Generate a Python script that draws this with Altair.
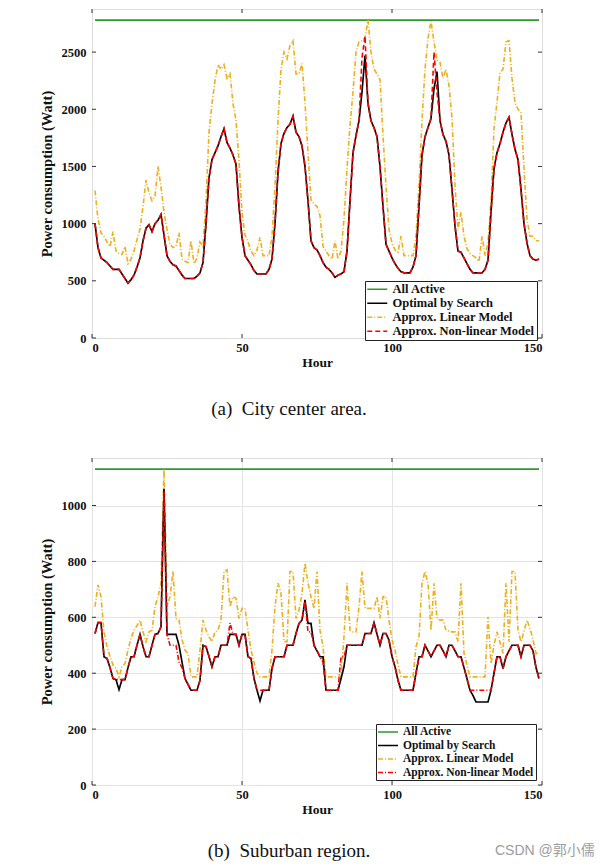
import altair as alt
import pandas as pd

# ---------------- data ----------------
hours = list(range(1, 150))
all_active_hours = [1, 149]

series_names = ["All Active", "Optimal by Search", "Approx. Linear Model", "Approx. Non-linear Model"]
series_colors = ["#2E9A2E", "#000000", "#EDB120", "#FF0000"]

# (a) City center area
city_all_active = [2780, 2780]
city_optimal = [
    1000, 790, 700, 680, 660, 630, 600, 600, 600, 560,
    520, 480, 510, 550, 620, 700, 850, 960, 990, 930,
    1000, 1030, 1080, 900, 720, 670, 640, 630, 590, 550,
    520, 520, 520, 520, 540, 570, 660, 1000, 1400, 1560,
    1620, 1680, 1760, 1830, 1710, 1660, 1600, 1520, 1150, 880,
    720, 680, 640, 590, 560, 560, 560, 560, 600, 690,
    1000, 1450, 1700, 1790, 1840, 1870, 1940, 1800, 1760, 1680,
    1500, 1200, 850, 790, 770, 720, 660, 620, 600, 570,
    530, 550, 560, 580, 760, 1200, 1620, 1770, 1900, 2150,
    2470, 2050, 1900, 1840, 1760, 1500, 1150, 820, 760, 700,
    650, 610, 580, 570, 570, 570, 620, 720, 1150, 1600,
    1760, 1840, 1920, 2180, 2330, 1900, 1780, 1720, 1600, 1300,
    980, 760, 750, 700, 650, 600, 570, 570, 570, 570,
    600, 680, 1100, 1480, 1620, 1700, 1800, 1880, 1930, 1780,
    1650, 1560, 1300, 1000, 830, 720, 690, 680, 690,
]
city_linear = [
    1290, 1040, 920, 890, 840, 800, 930, 760, 740, 730,
    800, 650, 690, 760, 860, 950, 1150, 1380, 1270, 1200,
    1240, 1500, 1320, 1100, 950, 820, 790, 800, 920, 690,
    670, 660, 850, 650, 700, 840, 800, 1200, 1800, 2050,
    2250, 2390, 2350, 2390, 2270, 2310, 2050, 1900, 1550, 1100,
    900, 840, 760, 720, 770, 880, 720, 720, 720, 890,
    1330, 1900, 2350, 2500, 2440, 2560, 2600, 2310, 2310, 2400,
    2060, 1620, 1210, 1170, 1150, 1070, 800, 760, 720, 690,
    850, 690, 760, 1040, 1480, 1860, 2150, 2500, 2590, 2600,
    2620, 2780, 2500, 2350, 2310, 2260, 1770, 1330, 950, 830,
    770, 750, 890, 720, 720, 720, 720, 890, 1330, 1900,
    2350, 2620, 2770, 2590, 2430, 2410, 2270, 2350, 2210, 1920,
    1330, 950, 1100, 890, 780, 740, 720, 700, 670, 890,
    720, 830, 1190, 1830, 2060, 2320, 2350, 2590, 2600, 2270,
    2060, 2000, 1970, 1480, 1040, 890, 890, 850, 850,
]
city_nonlinear = [
    1000, 790, 700, 680, 660, 630, 600, 600, 600, 560,
    520, 480, 510, 550, 620, 700, 850, 960, 990, 930,
    1000, 1030, 1080, 900, 720, 670, 640, 630, 590, 550,
    520, 520, 520, 520, 540, 570, 660, 1000, 1400, 1560,
    1620, 1680, 1760, 1830, 1710, 1660, 1600, 1520, 1150, 880,
    720, 680, 640, 590, 560, 560, 560, 560, 600, 690,
    1000, 1450, 1700, 1790, 1840, 1870, 1940, 1800, 1760, 1680,
    1500, 1200, 850, 790, 770, 720, 660, 620, 600, 570,
    530, 550, 560, 580, 760, 1200, 1620, 1770, 1900, 2450,
    2640, 2050, 1900, 1840, 1760, 1500, 1150, 820, 760, 700,
    650, 610, 580, 570, 570, 570, 620, 720, 1150, 1600,
    1760, 1840, 1920, 2500, 2150, 1900, 1780, 1720, 1600, 1300,
    980, 760, 750, 700, 650, 600, 570, 570, 570, 570,
    600, 680, 1100, 1480, 1620, 1700, 1800, 1880, 1930, 1780,
    1650, 1560, 1300, 1000, 830, 720, 690, 680, 690,
]

# (b) Suburban region
sub_all_active = [1130, 1130]
sub_optimal = [
    542, 581, 581, 459, 453, 420, 381, 377, 341, 377,
    377, 420, 459, 459, 500, 539, 495, 459, 459, 500,
    539, 542, 566, 1060, 539, 539, 539, 539, 500, 440,
    381, 360, 339, 339, 339, 375, 500, 495, 460, 423,
    459, 459, 500, 500, 500, 539, 539, 539, 500, 539,
    539, 459, 453, 381, 339, 301, 339, 339, 339, 417,
    459, 459, 459, 459, 500, 500, 500, 542, 578, 590,
    662, 578, 578, 500, 480, 459, 459, 339, 339, 339,
    339, 339, 380, 423, 500, 500, 500, 500, 500, 500,
    542, 542, 542, 581, 540, 500, 542, 542, 518, 460,
    423, 375, 339, 339, 339, 339, 339, 400, 459, 459,
    500, 480, 459, 480, 500, 500, 480, 459, 500, 500,
    480, 459, 459, 420, 380, 339, 320, 297, 297, 297,
    297, 297, 339, 400, 459, 459, 417, 459, 480, 500,
    500, 500, 459, 500, 500, 500, 480, 420, 381,
]
sub_linear = [
    638, 716, 674, 548, 495, 460, 429, 417, 387, 423,
    435, 483, 525, 554, 570, 590, 548, 513, 548, 554,
    638, 674, 722, 1130, 638, 674, 764, 596, 590, 520,
    483, 471, 387, 387, 387, 483, 590, 554, 530, 513,
    548, 554, 590, 764, 770, 638, 674, 668, 596, 632,
    632, 554, 483, 440, 400, 387, 387, 387, 387, 483,
    638, 722, 686, 513, 513, 764, 764, 596, 626, 686,
    794, 722, 674, 632, 764, 554, 495, 387, 387, 387,
    387, 387, 387, 531, 722, 554, 548, 548, 638, 764,
    632, 632, 632, 632, 674, 596, 674, 674, 590, 520,
    483, 430, 387, 387, 387, 387, 387, 495, 531, 722,
    764, 722, 554, 722, 596, 590, 590, 554, 550, 548,
    548, 513, 722, 471, 430, 387, 387, 387, 387, 387,
    387, 602, 435, 500, 548, 510, 471, 722, 513, 764,
    764, 554, 513, 550, 590, 560, 520, 471, 471,
]
sub_nonlinear = [
    542, 581, 581, 459, 453, 420, 381, 377, 377, 377,
    377, 420, 459, 459, 500, 539, 495, 459, 459, 500,
    539, 542, 566, 1050, 539, 500, 500, 500, 440, 420,
    381, 360, 339, 339, 339, 375, 500, 495, 460, 423,
    459, 459, 500, 500, 500, 580, 539, 539, 500, 539,
    539, 459, 453, 381, 339, 339, 339, 339, 339, 417,
    459, 459, 459, 459, 500, 500, 500, 542, 578, 590,
    656, 548, 548, 500, 480, 459, 440, 339, 339, 339,
    339, 339, 459, 459, 500, 500, 500, 500, 500, 500,
    542, 542, 542, 581, 540, 500, 542, 542, 518, 460,
    423, 375, 339, 339, 339, 339, 339, 400, 459, 459,
    500, 480, 459, 480, 500, 500, 480, 459, 500, 500,
    480, 459, 459, 420, 380, 339, 339, 339, 339, 339,
    339, 339, 339, 400, 459, 459, 417, 459, 480, 500,
    500, 500, 459, 500, 500, 500, 480, 420, 381,
]

x_ticks = [0, 50, 100, 150]
city_y_ticks = [0, 500, 1000, 1500, 2000, 2500]
sub_y_ticks = [0, 200, 400, 600, 800, 1000]

caption_a = "(a)\u2002City center area."
caption_b = "(b)\u2002Suburban region."
watermark = "CSDN @郭小儒"

# ---------------- helpers ----------------
SERIF = "Liberation Serif"
W = 450


def long_frame(green, opt, lin, nonlin):
    rows = []
    for h, v in zip(all_active_hours, green):
        rows.append({"hour": h, "value": v, "series": series_names[0]})
    for h, v in zip(hours, lin):
        rows.append({"hour": h, "value": v, "series": series_names[2]})
    for h, v in zip(hours, opt):
        rows.append({"hour": h, "value": v, "series": series_names[1]})
    for h, v in zip(hours, nonlin):
        rows.append({"hour": h, "value": v, "series": series_names[3]})
    return pd.DataFrame(rows)


def panel(df, H, ymax, yticks, grid, red_dash, leg_x, leg_y, leg_font, leg_row, caption, cap_y, extra=None):
    xscale = alt.Scale(domain=[0, 150], nice=False, zero=False)
    yscale = alt.Scale(domain=[0, ymax], nice=False, zero=True)
    xaxis = alt.Axis(values=x_ticks, format="d", title="Hour", ticks=False, domain=False,
                     grid=grid, gridColor="#e4e4e4", labelFont=SERIF, labelFontWeight="bold",
                     labelFontSize=12.5, labelColor="#111", labelPadding=3,
                     titleFont=SERIF, titleFontWeight="bold", titleFontSize=13.5,
                     titleColor="#111", titlePadding=2)
    yaxis = alt.Axis(values=yticks, format="d", title="Power consumption (Watt)", ticks=False,
                     domain=False, grid=grid, gridColor="#e4e4e4", labelFont=SERIF,
                     labelFontWeight="bold", labelFontSize=12.5, labelColor="#111",
                     labelPadding=6, titleFont=SERIF, titleFontWeight="bold",
                     titleFontSize=14.5, titleColor="#111", titlePadding=7)
    legend = alt.Legend(orient="none", legendX=leg_x, legendY=leg_y, title=None,
                        strokeColor="#222", fillColor="white", padding=2,
                        labelFont=SERIF, labelFontWeight="bold", labelFontSize=leg_font,
                        labelColor="#111", labelLimit=400, rowPadding=leg_row,
                        symbolType="M-2,0H2", symbolSize=100, symbolStrokeWidth=1.5,
                        symbolOffset=4, labelOffset=9)
    dashes = [[1, 0], [1, 0], [5, 2, 1, 2], red_dash]

    lines = alt.Chart(df).mark_line(clip=True).encode(
        x=alt.X("hour:Q", scale=xscale, axis=xaxis),
        y=alt.Y("value:Q", scale=yscale, axis=yaxis),
        color=alt.Color("series:N", scale=alt.Scale(domain=series_names, range=series_colors),
                        legend=legend),
        strokeDash=alt.StrokeDash("series:N", scale=alt.Scale(domain=series_names, range=dashes),
                                  legend=legend),
        strokeWidth=alt.StrokeWidth("series:N", scale=alt.Scale(domain=series_names,
                                                                range=[1.7, 1.6, 1.3, 1.5]),
                                    legend=None),
    )

    ydf = pd.DataFrame({"value": yticks})
    xdf = pd.DataFrame({"hour": x_ticks})
    tick_style = dict(color="#333", strokeWidth=1)
    yl = alt.Chart(ydf).mark_rule(**tick_style).encode(
        y=alt.Y("value:Q", scale=yscale, axis=yaxis), x=alt.value(0), x2=alt.value(4))
    yr = alt.Chart(ydf).mark_rule(**tick_style).encode(
        y=alt.Y("value:Q", scale=yscale, axis=yaxis), x=alt.value(W - 4), x2=alt.value(W))
    xb = alt.Chart(xdf).mark_rule(**tick_style).encode(
        x=alt.X("hour:Q", scale=xscale, axis=xaxis), y=alt.value(H - 4), y2=alt.value(H))
    xt = alt.Chart(xdf).mark_rule(**tick_style).encode(
        x=alt.X("hour:Q", scale=xscale, axis=xaxis), y=alt.value(0), y2=alt.value(4))

    cap = alt.Chart(pd.DataFrame({"t": [caption]})).mark_text(
        font=SERIF, fontSize=19, align="center", baseline="middle", color="#111"
    ).encode(text="t:N", x=alt.value(197), y=alt.value(cap_y))

    layers = [lines, yl, yr, xb, xt, cap]
    if extra is not None:
        layers.append(extra)
    return alt.layer(*layers).properties(width=W, height=H)


city_df = long_frame(city_all_active, city_optimal, city_linear, city_nonlinear)
sub_df = long_frame(sub_all_active, sub_optimal, sub_linear, sub_nonlinear)

wm = alt.Chart(pd.DataFrame({"t": [watermark]})).mark_text(
    font="Liberation Sans, Noto Sans CJK SC", fontSize=14, align="left", baseline="middle",
    color="#9c9c9c"
).encode(text="t:N", x=alt.value(403), y=alt.value(393))

top = panel(city_df, 329, 2877, city_y_ticks, False, [5, 3], 273, 272, 12.5, 1,
            caption_a, 400)
bottom = panel(sub_df, 327, 1170, sub_y_ticks, True, [5, 2, 1, 2], 284, 266, 11.5, 1.5,
               caption_b, 393, extra=wm)

chart = alt.vconcat(top, bottom, spacing=37).resolve_scale(
    color="independent", strokeDash="independent", strokeWidth="independent",
    x="independent", y="independent"
).properties(
    padding={"left": 30, "top": 0, "right": 5, "bottom": 5}
).configure_view(stroke="#333", strokeWidth=1).configure(background="white")

chart.save("out.html", embed_options={"renderer": "svg", "actions": False})
